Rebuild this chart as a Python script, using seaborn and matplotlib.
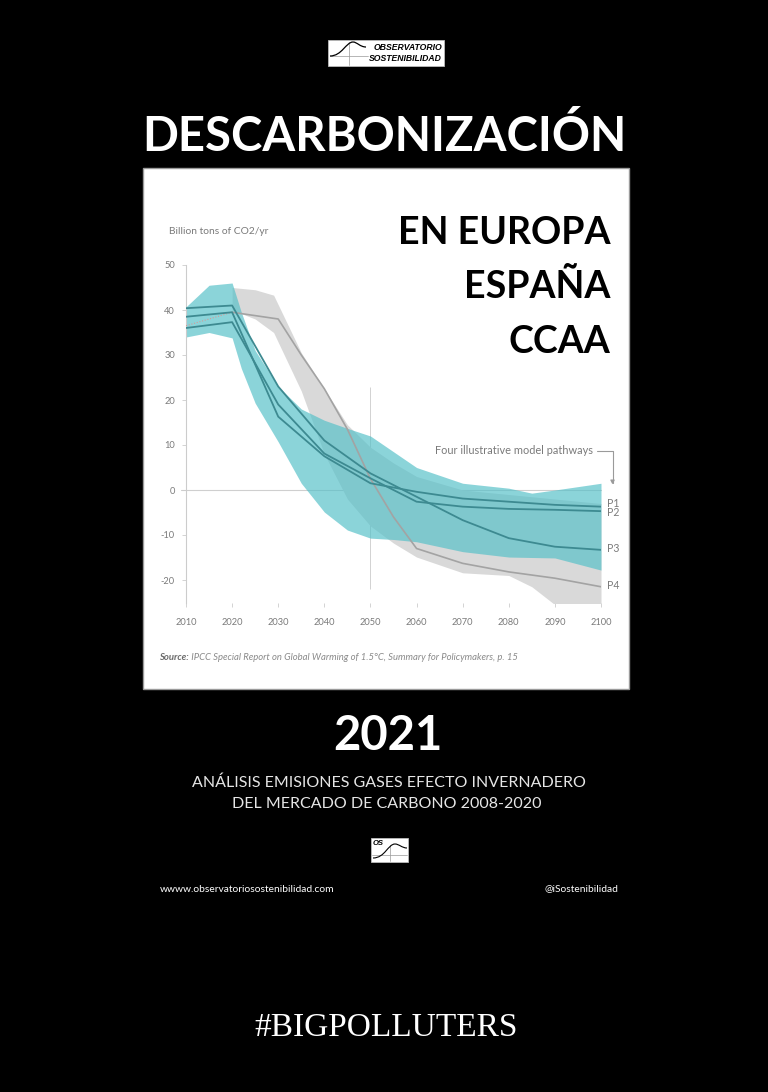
import pandas as pd
import seaborn as sns
import matplotlib.pyplot as plt
from matplotlib.patches import Rectangle, PathPatch
from matplotlib.path import Path
from matplotlib.transforms import Affine2D

# ---- data (billion t CO2 / yr)
blue_years = [2010, 2015, 2020, 2022, 2025, 2030, 2035, 2040, 2045, 2050, 2055, 2060, 2070, 2080, 2085, 2090, 2100]
blue_hi = [40.7, 45.5, 46, 39.5, 31, 23, 18, 15.5, 13.7, 12, 8.5, 5, 1.5, 0.4, -0.7, 0, 1.5]
blue_lo = [34, 35, 33.8, 27, 19.3, 10.7, 1.5, -4.9, -8.9, -10.7, -11, -11.5, -13.7, -14.9, -15, -15.1, -17.8]

gray_years = [2020, 2025, 2029, 2035, 2040, 2045, 2050, 2055, 2060, 2070, 2080, 2085, 2090, 2100]
gray_hi = [45, 44.5, 43.3, 30.5, 22.5, 14.5, 9.5, 6, 3, 0, -1, -1.5, -2, -3]
gray_lo = [40, 38, 35, 22, 8, -2, -8, -11.8, -14.9, -18.4, -19, -21.5, -25.5, -27]

path_years = [2010, 2020, 2030, 2040, 2050, 2060, 2070, 2080, 2090, 2100]
p1 = [38.5, 39.5, 16.3, 7.5, 1.5, -0.4, -1.9, -2.6, -3.3, -3.7]
p2 = [36, 37.3, 19, 8.1, 2.6, -2.6, -3.7, -4.2, -4.4, -4.7]
p3 = [40.4, 41, 23, 11, 3.7, -1.5, -6.7, -10.7, -12.6, -13.3]

p4_years = [2020, 2030, 2035, 2040, 2045, 2050, 2055, 2060, 2070, 2080, 2090, 2100]
p4 = [39.5, 38, 30, 22.5, 13.5, 2.5, -6, -13, -16.3, -18.2, -19.6, -21.5]
p4_early_years = [2010, 2020]
p4_early = [36.5, 39.5]

path_names = ["P1", "P2", "P3", "P4"]
path_ends = [-2.9, -5.1, -13.1, -21.3]   # label positions at 2100

xticks = list(range(2010, 2101, 10))
yticks = [-20, -10, 0, 10, 20, 30, 40, 50]

sns.set_theme(style="white")
plt.rcParams["font.family"] = ["Lato", "DejaVu Sans"]

W, H = 768, 1092
fig = plt.figure(figsize=(W / 100, H / 100), dpi=100, facecolor="black")
px = Affine2D().scale(1 / W, -1 / H).translate(0, 1) + fig.transFigure

# white panel behind the chart
fig.add_artist(Rectangle((143, 168), 486, 521, transform=px, facecolor="white",
                         edgecolor="#9a9a9a", lw=1, zorder=-5))

ax = fig.add_axes([186 / W, 1 - 602.5 / H, 415 / W, 337.5 / H])
ax.set_facecolor("none")

ax.fill_between(gray_years, gray_lo, gray_hi, color="#d9d9d9", lw=0, zorder=1)
ax.fill_between(blue_years, blue_lo, blue_hi, color="#55c0c8", alpha=0.68, lw=0, zorder=2)

ax.axhline(0, xmin=-0.012, xmax=1.0, color="#cfcfcf", lw=0.8, zorder=0.5, clip_on=False)
ax.vlines(2050, -22, 23, color="#d2d2d2", lw=0.7, zorder=0.5)

df = pd.DataFrame({
    "year": path_years * 3,
    "value": p1 + p2 + p3,
    "path": ["P1"] * len(p1) + ["P2"] * len(p2) + ["P3"] * len(p3),
})
sns.lineplot(data=df, x="year", y="value", hue="path", ax=ax, legend=False,
             palette=["#3d8a91", "#3d8a91", "#3d8a91"], lw=1.3, zorder=4)
sns.lineplot(x=p4_years, y=p4, ax=ax, color="#a3a3a3", lw=1.2, zorder=3)
sns.lineplot(x=p4_early_years, y=p4_early, ax=ax, color="#d59a96", lw=0.8,
             linestyle=(0, (1, 1.5)), zorder=3)

ax.set_xlim(2010, 2100)
ax.set_ylim(-25, 50)
ax.set_xticks(xticks)
ax.set_xticklabels([str(t) for t in xticks])
ax.set_yticks(yticks)
ax.set_yticklabels([str(t) for t in yticks])
ax.set_xlabel("")
ax.set_ylabel("")
for s in ["top", "right", "bottom"]:
    ax.spines[s].set_visible(False)
ax.spines["left"].set_color("#cccccc")
ax.spines["left"].set_linewidth(0.8)
ax.tick_params(axis="both", colors="#cccccc", labelcolor="#7a7a7a", labelsize=6.7,
               length=3, width=0.6, direction="out", left=True, bottom=True)
ax.tick_params(axis="x", pad=8)
ax.tick_params(axis="y", pad=5)

for name, yv in zip(path_names, path_ends):
    ax.text(2101.2, yv, name, fontsize=7.6, color="#7a7a7a", va="center", ha="left")

ax.text(2098.2, 8.7, "Four illustrative model pathways", fontsize=7.9, color="#7a7a7a",
        ha="right", va="center")
ax.annotate("", xy=(2102.5, 1.2), xytext=(2099.2, 8.7),
            arrowprops=dict(arrowstyle="-|>", mutation_scale=6, color="#9a9a9a", lw=0.8,
                            connectionstyle="angle,angleA=0,angleB=90,rad=0",
                            shrinkA=0, shrinkB=0),
            annotation_clip=False)

fig.text(169 / W, 1 - 231 / H, "Billion tons of CO2/yr", fontsize=7.4, color="#7a7a7a",
         va="center", ha="left")

src = fig.text(159 / W, 1 - 660 / H, "Source:", fontsize=6.8, color="#6a6a6a",
               style="italic", weight="bold", va="baseline")
ax.annotate(" IPCC Special Report on Global Warming of 1.5°C, Summary for Policymakers, p. 15",
            xy=(1, 0), xycoords=src, va="bottom", ha="left", fontsize=6.8,
            color="#8a8a8a", style="italic")

# ---- titles
fig.text(0.5, 1 - 151 / H, "DESCARBONIZACIÓN", fontsize=34, weight="bold", color="white",
         ha="center", va="baseline")
for txt, base in [("EN EUROPA", 244), ("ESPAÑA", 298), ("CCAA", 353)]:
    fig.text(610 / W, 1 - base / H, txt, fontsize=27, weight="bold", color="black",
             ha="right", va="baseline")

fig.text(388 / W, 1 - 750 / H, "2021", fontsize=34, weight="bold", color="white",
         ha="center", va="baseline")
fig.text(389 / W, 1 - 787 / H, "ANÁLISIS EMISIONES GASES EFECTO INVERNADERO", fontsize=11.5,
         color="#e6e6e6", ha="center", va="baseline")
fig.text(387 / W, 1 - 808 / H, "DEL MERCADO DE CARBONO 2008-2020", fontsize=11.5,
         color="#e6e6e6", ha="center", va="baseline")

fig.text(160 / W, 1 - 889 / H, "wwww.observatoriosostenibilidad.com", fontsize=7.4,
         color="white", ha="left", va="center")
fig.text(618 / W, 1 - 889 / H, "@iSostenibilidad", fontsize=7.4, color="white",
         ha="right", va="center")

fig.text(386 / W, 1 - 1036 / H, "#BIGPOLLUTERS", fontsize=24, color="white",
         family="Liberation Serif", ha="center", va="baseline")

# ---- logos
fig.add_artist(Rectangle((328, 40), 116, 26, transform=px, facecolor="white",
                         edgecolor="#bbbbbb", lw=0.6, zorder=2))
fig.add_artist(plt.Line2D([349, 349], [42, 65], transform=px, color="#999999", lw=0.5, zorder=3))
fig.add_artist(plt.Line2D([330, 368], [56, 56], transform=px, color="#999999", lw=0.5, zorder=3))
curve = Path([(330, 56), (342, 56), (346, 42), (353, 42), (357, 42), (360, 47), (366, 47)],
             [Path.MOVETO, Path.CURVE4, Path.CURVE4, Path.CURVE4, Path.CURVE4, Path.CURVE4, Path.CURVE4])
fig.add_artist(PathPatch(curve, transform=px, facecolor="none", edgecolor="black", lw=0.9, zorder=4))
fig.text(442 / W, 1 - 47.5 / H, "OBSERVATORIO", fontsize=6.2, weight="bold", style="italic",
         family="Liberation Sans", color="black", ha="right", va="center")
fig.text(442 / W, 1 - 58.5 / H, "SOSTENIBILIDAD", fontsize=6.2, weight="bold", style="italic",
         family="Liberation Sans", color="black", ha="right", va="center")

fig.add_artist(Rectangle((371, 838), 37, 24, transform=px, facecolor="white",
                         edgecolor="#bbbbbb", lw=0.6, zorder=2))
fig.add_artist(plt.Line2D([390, 390], [845, 861], transform=px, color="#999999", lw=0.5, zorder=3))
fig.add_artist(plt.Line2D([372, 407], [855, 855], transform=px, color="#999999", lw=0.5, zorder=3))
curve2 = Path([(373, 858), (385, 858), (388, 844), (395, 844), (399, 844), (402, 848), (407, 848)],
              [Path.MOVETO, Path.CURVE4, Path.CURVE4, Path.CURVE4, Path.CURVE4, Path.CURVE4, Path.CURVE4])
fig.add_artist(PathPatch(curve2, transform=px, facecolor="none", edgecolor="black", lw=0.8, zorder=4))
fig.text(373 / W, 1 - 843.5 / H, "OS", fontsize=5.5, weight="bold", style="italic",
         family="Liberation Sans", color="black", ha="left", va="center")

fig.savefig("out.png", dpi=100, facecolor="black")
